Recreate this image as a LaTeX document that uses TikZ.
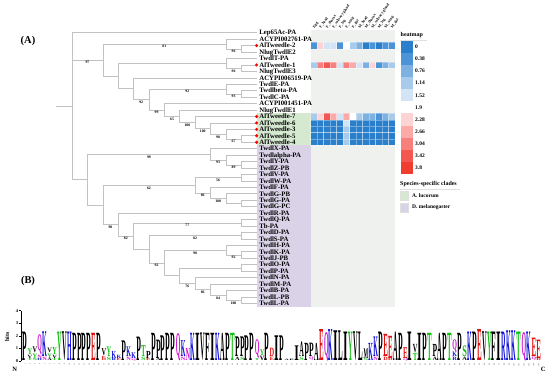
\documentclass[tikz,border=0pt]{standalone}
\usepackage{fontspec}
\setmainfont{Liberation Serif}
\usepackage{graphicx}
\usetikzlibrary{calc}
\definecolor{treegray}{HTML}{C2C2C2}
\definecolor{nacol}{HTML}{EEF1EE}
\definecolor{grband}{HTML}{D5E8D0}
\definecolor{puband}{HTML}{DAD3E8}
\definecolor{hm0}{HTML}{2A7FCC}
\definecolor{hm1}{HTML}{4C94D8}
\definecolor{hm2}{HTML}{7DB1E2}
\definecolor{hm3}{HTML}{A8CBEC}
\definecolor{hm4}{HTML}{D2E4F5}
\definecolor{hm5}{HTML}{FFFFFF}
\definecolor{hm6}{HTML}{FDD4D3}
\definecolor{hm7}{HTML}{FBAAA8}
\definecolor{hm8}{HTML}{F8807C}
\definecolor{hm9}{HTML}{F45650}
\definecolor{hm10}{HTML}{F03D30}
\definecolor{lgred}{HTML}{E01010}
\definecolor{lgblue}{HTML}{1010D8}
\definecolor{lggreen}{HTML}{10C010}
\definecolor{lgmag}{HTML}{D010D0}
\colorlet{lgA}{black}\colorlet{lgV}{black}\colorlet{lgL}{black}\colorlet{lgI}{black}
\colorlet{lgP}{black}\colorlet{lgW}{black}\colorlet{lgF}{black}\colorlet{lgM}{black}
\colorlet{lgG}{lggreen}\colorlet{lgS}{lggreen}\colorlet{lgT}{lggreen}\colorlet{lgY}{lggreen}\colorlet{lgC}{lggreen}
\colorlet{lgQ}{lgmag}\colorlet{lgN}{lgmag}
\colorlet{lgK}{lgblue}\colorlet{lgR}{lgblue}\colorlet{lgH}{lgblue}
\colorlet{lgD}{lgred}\colorlet{lgE}{lgred}
\tikzset{
  br/.style={draw=treegray, line width=0.6bp},
  leaf/.style={anchor=base west, inner sep=0, font=\fontsize{6.8}{7}\selectfont\bfseries},
  bs/.style={font=\fontsize{3.8}{4}\selectfont\bfseries, inner sep=0, yshift=-2.7bp},
  dot/.style={circle, fill=red, inner sep=0, minimum size=3.4bp},
  collab/.style={rotate=55, anchor=west, inner sep=0, font=\fontsize{3.8}{4}\selectfont\bfseries},
  legtitle/.style={anchor=west, inner sep=0, font=\fontsize{6}{7}\selectfont\bfseries},
  legtxt/.style={anchor=west, inner sep=0, font=\fontsize{5.5}{6}\selectfont\bfseries},
  panel/.style={inner sep=0, font=\fontsize{10.5}{12}\selectfont\bfseries},
  lgl/.style={anchor=south, inner sep=0, outer sep=0, font=\bfseries},
  posn/.style={rotate=90, anchor=east, inner sep=0, text=black!70, font=\fontsize{2}{2}\selectfont},
  axlab/.style={inner sep=0, font=\fontsize{4.5}{5}\selectfont\bfseries},
}
\newcommand\bsl[3]{\node[bs] (b#1#2) at ($(#1 |- #2)!.5!(#2)$) {#3};}
\newcount\gcnt
\newcommand\lgcol[2]{%
  \pgfmathsetmacro\cx{22.5+4.94*(#1-0.5)}%
  \def\cy{360.6}%
  #2%
  \node[posn] (p#1) at (\cx,363.4) {#1};}
\newcommand\lt[2]{%
  \pgfmathsetmacro\hh{#2*12.6-0.5}%
  \global\advance\gcnt by 1
  \node[lgl, text=lg#1] (g\the\gcnt) at (\cx,\cy) {\resizebox*{4.6bp}{\hh bp}{#1}};%
  \pgfmathsetmacro\cy{\cy-\hh-0.5}}
\begin{document}
\begin{tikzpicture}[x=1bp,y=-1bp]
\useasboundingbox[fill=white] (0,0) rectangle (550,375);
% panel labels
\node[panel] (pA) at (28,41) {(A)};
\node[panel] (pB) at (28,281) {(B)};
% heatmap background and clade bands
\fill[nacol] (310.5,29.5) rectangle (395,306.5);
\fill[grband] (256.6,113.3) rectangle (310.5,145.4);
\fill[puband] (256.6,145.4) rectangle (310.5,306.5);
% leaves
\foreach \lab [count=\i] in {Lep65Ac-PA,ACYPI002761-PA,AlTweedle-2,NlugTwdlE2,TwdlT-PA,AlTweedle-1,NlugTwdlE3,ACYPI006519-PA,TwdlE-PA,Twdlbeta-PA,TwdlC-PA,ACYPI001451-PA,NlugTwdlE1,AlTweedle-7,AlTweedle-6,AlTweedle-3,AlTweedle-5,AlTweedle-4,TwdlX-PA,Twdlalpha-PA,TwdlY-PA,TwdlZ-PB,TwdlV-PA,TwdlW-PA,TwdlF-PA,TwdlG-PB,TwdlG-PA,TwdlG-PC,TwdlR-PA,TwdlQ-PA,Tb-PA,TwdlD-PA,TwdlS-PA,TwdlH-PA,TwdlK-PA,TwdlJ-PB,TwdlO-PA,TwdlP-PA,TwdlN-PA,TwdlM-PA,TwdlB-PA,TwdlL-PB,TwdlL-PA}{
  \coordinate (l\i) at (256.6,{32.7+6.443*(\i-1)});
  \node[leaf] (t\i) at (259.2,{32.7+6.443*(\i-1)+2.25}) {\lab};
}
% internal nodes
\coordinate (r0) at (56,106.15);
\coordinate (r) at (72,106.15);
\coordinate (B) at (102.8,60.0);
\coordinate (B1) at (225.8,43.95);
\coordinate (B1a) at (241.2,48.8);
\coordinate (B2) at (118.1,76.0);
\coordinate (B2a) at (225.8,63.3);
\coordinate (B2a1) at (241.2,68.15);
\coordinate (B2b) at (133.5,88.65);
\coordinate (B2c) at (148.9,99.5);
\coordinate (B2d) at (225.8,89.05);
\coordinate (B2d1) at (241.2,93.9);
\coordinate (B2e) at (164.3,109.9);
\coordinate (B2f) at (179.7,116.25);
\coordinate (B2g) at (195.0,122.5);
\coordinate (B2h) at (210.4,128.5);
\coordinate (B2i) at (225.8,134.15);
\coordinate (B2j) at (241.2,139.0);
\coordinate (C) at (87.4,179.6);
\coordinate (C1) at (210.4,154.3);
\coordinate (C1a) at (225.8,159.95);
\coordinate (C1b) at (241.2,164.8);
\coordinate (C2) at (102.8,204.95);
\coordinate (C2a) at (195.0,185.3);
\coordinate (C2a1) at (241.2,177.7);
\coordinate (C2a2) at (210.4,192.95);
\coordinate (C2a3) at (225.8,198.6);
\coordinate (C2a4) at (241.2,203.45);
\coordinate (C2b) at (118.1,224.6);
\coordinate (C2c) at (133.5,236.05);
\coordinate (C2d) at (241.2,222.8);
\coordinate (C2e) at (148.9,249.3);
\coordinate (C2f) at (241.2,235.7);
\coordinate (C2g) at (164.3,262.95);
\coordinate (C2h) at (225.8,250.15);
\coordinate (C2h1) at (241.2,255.0);
\coordinate (C2i) at (179.7,275.75);
\coordinate (C2j) at (241.2,267.9);
\coordinate (C2k) at (195.0,283.6);
\coordinate (C2l) at (210.4,289.6);
\coordinate (C2m) at (225.8,295.25);
\coordinate (C2n) at (241.2,300.1);
% branches
\draw[br] (r0) -- (r);
\foreach \p/\c in {r/l1,r/B,r/C,B/B1,B/B2,B1/l2,B1/B1a,B1a/l3,B1a/l4,B2/B2a,B2/B2b,B2a/l5,B2a/B2a1,B2a1/l6,B2a1/l7,B2b/l8,B2b/B2c,B2c/B2d,B2c/B2e,B2d/l9,B2d/B2d1,B2d1/l10,B2d1/l11,B2e/l12,B2e/B2f,B2f/l13,B2f/B2g,B2g/l14,B2g/B2h,B2h/l15,B2h/B2i,B2i/l16,B2i/B2j,B2j/l17,B2j/l18,C/C1,C/C2,C1/l19,C1/C1a,C1a/l20,C1a/C1b,C1b/l21,C1b/l22,C2/C2a,C2/C2b,C2a/C2a1,C2a/C2a2,C2a1/l23,C2a1/l24,C2a2/l25,C2a2/C2a3,C2a3/l26,C2a3/C2a4,C2a4/l27,C2a4/l28,C2b/l29,C2b/C2c,C2c/C2d,C2c/C2e,C2d/l30,C2d/l31,C2e/C2f,C2e/C2g,C2f/l32,C2f/l33,C2g/C2h,C2g/C2i,C2h/l34,C2h/C2h1,C2h1/l35,C2h1/l36,C2i/C2j,C2i/C2k,C2j/l37,C2j/l38,C2k/l39,C2k/C2l,C2l/l40,C2l/C2m,C2m/l41,C2m/C2n,C2n/l42,C2n/l43}
  \draw[br] (\p) |- (\c);
% bootstrap values
\bsl{r}{B}{97}\bsl{B}{B1}{81}\bsl{B1}{B1a}{96}\bsl{B2a}{B2a1}{96}
\bsl{B2b}{B2c}{92}\bsl{B2c}{B2d}{92}\bsl{B2d}{B2d1}{93}\bsl{B2c}{B2e}{99}
\bsl{B2e}{B2f}{65}\bsl{B2f}{B2g}{100}\bsl{B2g}{B2h}{100}\bsl{B2h}{B2i}{98}\bsl{B2i}{B2j}{67}
\bsl{C}{C1}{99}\bsl{C1}{C1a}{93}\bsl{C1a}{C1b}{89}
\bsl{C2}{C2a}{62}\bsl{C2a}{C2a1}{56}\bsl{C2a}{C2a2}{86}\bsl{C2a2}{C2a3}{100}
\bsl{C2}{C2b}{98}\bsl{C2b}{C2c}{82}\bsl{C2c}{C2d}{77}\bsl{C2e}{C2f}{82}\bsl{C2e}{C2g}{92}
\bsl{C2g}{C2h}{98}\bsl{C2h}{C2h1}{92}\bsl{C2i}{C2k}{76}\bsl{C2k}{C2l}{86}\bsl{C2l}{C2m}{84}\bsl{C2m}{C2n}{100}
% tip points
\foreach \i in {3,6,14,15,16,17,18} \node[dot] (d\i) at (l\i) {};
% heatmap cells
\foreach \r/\vals in {3/{1,6,4,4,1,5,3,2,0,1,0,1,1},6/{3,8,9,8,4,8,7,4,2,6,1,2,3},14/{3,6,9,7,4,7,5,3,2,2,1,2,3},15/{0,0,0,0,0,4,0,0,0,0,0,0,0},16/{0,0,0,0,0,3,0,0,0,0,0,0,0},17/{0,0,0,0,0,3,0,0,0,0,0,0,0},18/{0,0,0,0,0,3,0,0,0,0,0,0,0}}{
  \foreach \v [count=\c] in \vals
    \path[fill=hm\v, draw=white, draw opacity=0.35, line width=0.25bp] ({310.5+6.5*(\c-1)},{32.7+6.443*(\r-1)-3.2215}) rectangle ++(6.5,6.443);
}
% column labels
\foreach \lab [count=\c] in {Egg,F\_head,F\_thorax,F\_salivary gland,F\_leg,F\_wing,F\_gut,M\_head,M\_thorax,M\_salivary gland,M\_leg,M\_wing,M\_gut}
  \node[collab] (col\c) at ({310.5+6.5*(\c-0.5)},27.8) {\lab};
% legend: heatmap
\node[legtitle] (lh) at (400.5,35) {heatmap};
\draw[gray!25, line width=0.4bp] (400,40.2) -- (427,40.2);
\foreach \v [count=\k from 0] in {0,0.38,0.76,1.14,1.52,1.9,2.28,2.66,3.04,3.42,3.8}{
  \fill[hm\k] (400.5,{40.5+12.16*\k}) rectangle ++(12.2,12.16);
  \node[legtxt] (v\k) at (415,{46.6+12.16*\k}) {\v};
}
% legend: clades
\node[legtitle] (ls) at (400,183.7) {Species-specific clades};
\draw[gray!25, line width=0.4bp] (400,188.8) -- (460,188.8);
\node[draw=gray!25, fill=grband, minimum width=8.5bp, minimum height=8.7bp, inner sep=0] (kA) at (404.2,195.5) {};
\node[draw=gray!25, fill=puband, minimum width=8.5bp, minimum height=8.7bp, inner sep=0] (kD) at (404.2,207.4) {};
\node[legtxt] (tA) at (412,195.5) {A. lucorum};
\node[legtxt] (tD) at (412,207.4) {D. melanogaster};
% sequence logo axis
\coordinate (ax0) at (21,361);
\coordinate (ax4) at (21,310.6);
\draw[line width=0.4bp] (ax0) -- (ax4);
\foreach \k in {0,...,4}{
  \draw[line width=0.4bp] (21,{361-12.6*\k}) -- ++(-1.8,0);
  \node[axlab, anchor=east] (yt\k) at (18.3,{361-12.6*\k}) {\k};
}
\node[inner sep=0, rotate=90, font=\fontsize{6}{7}\selectfont\bfseries] (bits) at (7,337) {bits};
\node[inner sep=0, font=\fontsize{6.5}{7}\selectfont\bfseries] (nN) at (14.7,369.3) {N};
\node[inner sep=0, font=\fontsize{6.5}{7}\selectfont\bfseries] (nC) at (543.3,369.3) {C};
% logo columns
\lgcol{1}{\lt{P}{2.3}}
\lgcol{2}{\lt{T}{.2}\lt{V}{.3}\lt{Y}{.5}}
\lgcol{3}{\lt{S}{.2}\lt{Y}{.4}\lt{V}{.5}}
\lgcol{4}{\lt{H}{.2}\lt{N}{.3}\lt{Q}{1.6}}
\lgcol{5}{\lt{N}{.3}\lt{K}{2.0}}
\lgcol{6}{\lt{A}{.2}\lt{Y}{.4}\lt{V}{.4}}
\lgcol{7}{\lt{T}{.2}\lt{V}{.3}\lt{Y}{.6}}
\lgcol{8}{\lt{Y}{2.3}}
\lgcol{9}{\lt{V}{2.3}}
\lgcol{10}{\lt{H}{2.3}}
\lgcol{11}{\lt{P}{2.2}}
\lgcol{12}{\lt{P}{2.2}}
\lgcol{13}{\lt{P}{2.2}}
\lgcol{14}{\lt{P}{2.2}}
\lgcol{15}{\lt{E}{2.2}}
\lgcol{16}{\lt{P}{2.2}}
\lgcol{17}{\lt{D}{.2}\lt{E}{.2}\lt{V}{.6}}
\lgcol{18}{\lt{S}{.3}\lt{Y}{.8}}
\lgcol{19}{\lt{R}{.2}\lt{K}{.6}}
\lgcol{20}{\lt{E}{.2}\lt{K}{.3}}
\lgcol{21}{\lt{P}{1.6}}
\lgcol{22}{\lt{N}{.3}\lt{K}{.8}}
\lgcol{23}{\lt{Q}{.2}\lt{K}{.5}}
\lgcol{24}{\lt{P}{1.9}}
\lgcol{25}{\lt{S}{.3}\lt{T}{.9}}
\lgcol{26}{\lt{E}{.2}\lt{P}{.6}}
\lgcol{27}{\lt{P}{2.2}}
\lgcol{28}{\lt{A}{.2}\lt{P}{1.5}}
\lgcol{29}{\lt{P}{2.0}}
\lgcol{30}{\lt{P}{2.2}}
\lgcol{31}{\lt{P}{2.2}}
\lgcol{32}{\lt{Q}{2.2}}
\lgcol{33}{\lt{N}{.3}\lt{K}{1.3}}
\lgcol{34}{\lt{N}{1.0}}
\lgcol{35}{\lt{K}{2.2}}
\lgcol{36}{\lt{I}{2.2}}
\lgcol{37}{\lt{V}{2.2}}
\lgcol{38}{\lt{F}{2.2}}
\lgcol{39}{\lt{I}{2.2}}
\lgcol{40}{\lt{K}{2.2}}
\lgcol{41}{\lt{A}{2.2}}
\lgcol{42}{\lt{P}{2.2}}
\lgcol{43}{\lt{T}{2.2}}
\lgcol{44}{\lt{A}{.3}\lt{P}{1.6}}
\lgcol{45}{\lt{S}{.3}\lt{P}{1.6}}
\lgcol{46}{\lt{P}{2.0}}
\lgcol{47}{\lt{P}{2.2}}
\lgcol{48}{\lt{T}{.2}\lt{Q}{1.5}}
\lgcol{49}{\lt{V}{.4}\lt{Y}{.5}}
\lgcol{50}{\lt{P}{2.2}}
\lgcol{51}{\lt{E}{.3}\lt{D}{.7}}
\lgcol{52}{\lt{I}{2.0}}
\lgcol{53}{\lt{P}{2.0}}
\lgcol{54}{\lt{A}{.15}}
\lgcol{55}{\lt{P}{.15}}
\lgcol{56}{\lt{I}{1.2}}
\lgcol{57}{\lt{S}{.3}\lt{A}{1.2}}
\lgcol{58}{\lt{P}{1.4}}
\lgcol{59}{\lt{Q}{.3}\lt{P}{1.1}}
\lgcol{60}{\lt{A}{1.4}}
\lgcol{61}{\lt{E}{2.5}}
\lgcol{62}{\lt{Q}{2.3}}
\lgcol{63}{\lt{K}{2.5}}
\lgcol{64}{\lt{I}{2.4}}
\lgcol{65}{\lt{L}{2.4}}
\lgcol{66}{\lt{I}{2.3}}
\lgcol{67}{\lt{Y}{2.3}}
\lgcol{68}{\lt{V}{2.3}}
\lgcol{69}{\lt{L}{2.3}}
\lgcol{70}{\lt{S}{.2}\lt{M}{.8}}
\lgcol{71}{\lt{K}{1.4}}
\lgcol{72}{\lt{N}{.3}\lt{K}{1.6}}
\lgcol{73}{\lt{P}{2.3}}
\lgcol{74}{\lt{D}{.3}\lt{E}{1.8}}
\lgcol{75}{\lt{D}{.2}\lt{E}{1.8}}
\lgcol{76}{\lt{A}{2.3}}
\lgcol{77}{\lt{P}{2.2}}
\lgcol{78}{\lt{Q}{.2}\lt{E}{.9}}
\lgcol{79}{\lt{I}{2.3}}
\lgcol{80}{\lt{T}{.6}\lt{V}{.7}}
\lgcol{81}{\lt{I}{2.2}}
\lgcol{82}{\lt{P}{2.2}}
\lgcol{83}{\lt{T}{2.2}}
\lgcol{84}{\lt{A}{.3}\lt{P}{1.0}}
\lgcol{85}{\lt{A}{2.2}}
\lgcol{86}{\lt{P}{2.2}}
\lgcol{87}{\lt{T}{2.2}}
\lgcol{88}{\lt{R}{.3}\lt{K}{.4}\lt{Q}{1.0}}
\lgcol{89}{\lt{P}{2.2}}
\lgcol{90}{\lt{A}{.3}\lt{S}{.9}}
\lgcol{91}{\lt{K}{2.3}}
\lgcol{92}{\lt{P}{2.3}}
\lgcol{93}{\lt{E}{2.5}}
\lgcol{94}{\lt{V}{2.3}}
\lgcol{95}{\lt{Y}{2.3}}
\lgcol{96}{\lt{F}{2.3}}
\lgcol{97}{\lt{I}{2.3}}
\lgcol{98}{\lt{R}{2.3}}
\lgcol{99}{\lt{K}{2.4}}
\lgcol{100}{\lt{K}{2.4}}
\lgcol{101}{\lt{T}{2.3}}
\lgcol{102}{\lt{Q}{2.3}}
\lgcol{103}{\lt{K}{2.3}}
\lgcol{104}{\lt{Q}{.3}\lt{E}{1.5}}
\lgcol{105}{\lt{D}{.2}\lt{E}{1.5}}
\end{tikzpicture}
\end{document}
